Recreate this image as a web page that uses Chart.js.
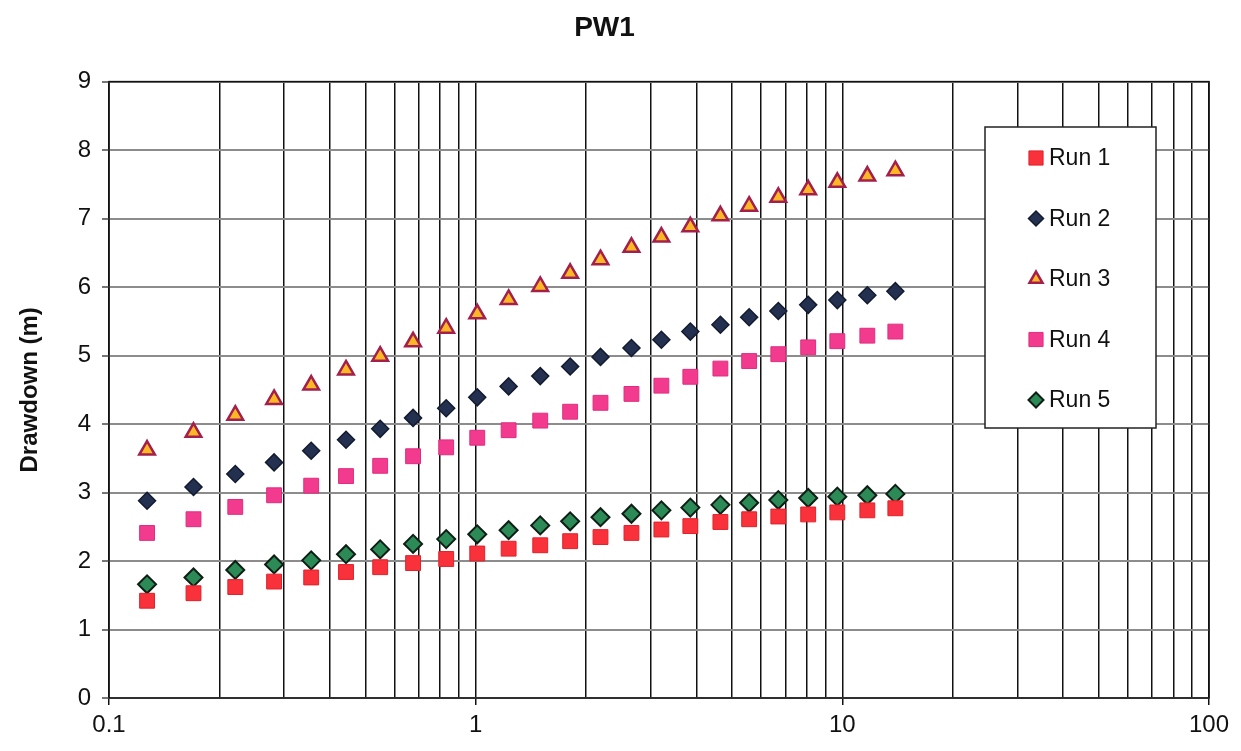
<!DOCTYPE html>
<html lang="en">
  <head>
    <meta charset="UTF-8">
    <title>PW1 drawdown</title>
    <style>
      html, body { margin: 0; padding: 0; background: #fff; }
      .wrap { width: 1241px; height: 751px; }
    </style>
  </head>
  <body>
    <div class="wrap">
      <canvas id="myChart" width="1241" height="751"></canvas>
    </div>

    <script src="https://cdn.jsdelivr.net/npm/chart.js"></script>

    <script>
      // time values (log axis) shared by all runs
      const times = [0.127, 0.170, 0.221, 0.282, 0.356, 0.443, 0.549, 0.675, 0.831, 1.01,
                     1.23, 1.50, 1.81, 2.19, 2.66, 3.21, 3.85, 4.65, 5.57, 6.69,
                     8.07, 9.69, 11.7, 13.95];

      const run1 = [1.42, 1.53, 1.62, 1.70, 1.76, 1.84, 1.91, 1.97, 2.03, 2.11,
                    2.18, 2.23, 2.29, 2.35, 2.41, 2.46, 2.51, 2.57, 2.61, 2.65,
                    2.68, 2.71, 2.74, 2.77];
      const run2 = [2.88, 3.08, 3.27, 3.44, 3.61, 3.77, 3.93, 4.09, 4.23, 4.39,
                    4.55, 4.70, 4.84, 4.98, 5.11, 5.23, 5.35, 5.45, 5.56, 5.65,
                    5.74, 5.81, 5.88, 5.94];
      const run3 = [3.62, 3.88, 4.13, 4.36, 4.57, 4.79, 4.99, 5.20, 5.40, 5.61,
                    5.82, 6.01, 6.20, 6.40, 6.58, 6.73, 6.88, 7.04, 7.18, 7.31,
                    7.42, 7.53, 7.62, 7.70];
      const run4 = [2.41, 2.61, 2.79, 2.96, 3.10, 3.24, 3.39, 3.53, 3.66, 3.80,
                    3.91, 4.05, 4.18, 4.31, 4.44, 4.56, 4.69, 4.81, 4.92, 5.02,
                    5.12, 5.21, 5.29, 5.35];
      const run5 = [1.66, 1.76, 1.87, 1.95, 2.01, 2.10, 2.17, 2.25, 2.32, 2.39,
                    2.45, 2.52, 2.58, 2.64, 2.69, 2.74, 2.78, 2.82, 2.85, 2.89,
                    2.92, 2.94, 2.96, 2.98];

      const runNames = ['Run 1', 'Run 2', 'Run 3', 'Run 4', 'Run 5'];
      const decades = [0.1, 1, 10, 100];
      const yTicks = [0, 1, 2, 3, 4, 5, 6, 7, 8, 9];

      const FONT = 'Arial, "Liberation Sans", sans-serif';

      function pts(vals) {
        return times.map((t, i) => ({ x: t, y: vals[i] }));
      }

      // looks of each run
      const styles = [
        { pointStyle: 'rect', backgroundColor: '#f8313a', borderColor: '#e0222b', borderWidth: 1, pointRadius: 10.5 },
        { pointStyle: 'rectRot', backgroundColor: '#23304f', borderColor: '#131b30', borderWidth: 1.5, pointRadius: 8.5 },
        { pointStyle: 'triangle', backgroundColor: '#fbb824', borderColor: '#a4204c', borderWidth: 2.5, pointRadius: 9 },
        { pointStyle: 'rect', backgroundColor: '#f23b8f', borderColor: '#e02d7e', borderWidth: 1, pointRadius: 10.5 },
        { pointStyle: 'rectRot', backgroundColor: '#2b8a55', borderColor: '#0f1f16', borderWidth: 2, pointRadius: 9 }
      ];

      const runs = [run1, run2, run3, run4, run5];

      const datasets = runs.map((r, i) => Object.assign({
        label: runNames[i],
        data: pts(r),
        showLine: false,
        pointHoverRadius: styles[i].pointRadius
      }, styles[i], { pointBorderWidth: styles[i].borderWidth }));

      // black frame around the plot area
      const frame = {
        id: 'frame',
        afterDatasetsDraw(chart) {
          const a = chart.chartArea, c = chart.ctx;
          c.save();
          c.strokeStyle = '#111';
          c.lineWidth = 1.5;
          c.strokeRect(a.left, a.top, a.right - a.left, a.bottom - a.top);
          c.restore();
        }
      };

      // legend box drawn inside the plot
      const boxLegend = {
        id: 'boxLegend',
        afterDraw(chart) {
          const c = chart.ctx;
          const x0 = 985, y0 = 127, w = 171, h = 301;
          c.save();
          c.fillStyle = '#fff';
          c.fillRect(x0, y0, w, h);
          c.strokeStyle = '#222';
          c.lineWidth = 1.5;
          c.strokeRect(x0, y0, w, h);
          c.font = '23px ' + FONT;
          c.textBaseline = 'middle';
          c.fillStyle = '#111';
          runNames.forEach((name, i) => {
            const y = 158 + i * 60.5;
            const s = styles[i];
            c.fillStyle = s.backgroundColor;
            c.strokeStyle = s.borderColor;
            c.lineWidth = s.borderWidth;
            Chart.helpers.drawPoint(c, {
              pointStyle: s.pointStyle,
              radius: s.pointStyle === 'rect' ? 10 : 7.5,
              rotation: 0,
              borderWidth: s.borderWidth
            }, 1036, y);
            c.fillStyle = '#111';
            c.fillText(name, 1049, y + 1);
          });
          c.restore();
        }
      };

      const ctx = document.getElementById('myChart');

      new Chart(ctx, {
        type: 'scatter',
        data: { datasets },
        plugins: [frame, boxLegend],
        options: {
          responsive: false,
          animation: false,
          layout: { padding: { left: 0, right: 32, top: 0, bottom: 0 } },
          plugins: {
            legend: { display: false },
            tooltip: { enabled: false },
            title: {
              display: true,
              text: 'PW1',
              color: '#111',
              font: { family: FONT, size: 28, weight: 'bold' },
              padding: { top: 11, bottom: 37 }
            }
          },
          scales: {
            x: {
              type: 'logarithmic',
              min: 0.1,
              max: 100,
              afterBuildTicks(scale) {
                const list = [];
                decades.slice(0, -1).forEach(d => {
                  for (let k = 1; k < 10; k++) list.push({ value: +(d * k).toPrecision(3) });
                });
                list.push({ value: decades[decades.length - 1] });
                scale.ticks = list;
              },
              afterFit(scale) { scale.height = 53; },
              border: { display: false },
              grid: {
                color: '#111',
                lineWidth: 1.5,
                tickLength: 7,
                tickColor: c => decades.includes(c.tick && c.tick.value) ? '#111' : 'rgba(0,0,0,0)'
              },
              ticks: {
                autoSkip: false,
                maxRotation: 0,
                padding: 6,
                color: '#111',
                font: { family: FONT, size: 24 },
                callback: v => decades.includes(v) ? String(v) : ''
              }
            },
            y: {
              min: 0,
              max: 9,
              afterBuildTicks(scale) {
                scale.ticks = yTicks.map(v => ({ value: v }));
              },
              afterFit(scale) { scale.width = 109; },
              border: { display: false },
              grid: {
                color: '#8c8c8c',
                lineWidth: 2,
                tickLength: 7,
                tickColor: '#777'
              },
              ticks: {
                padding: 11,
                color: '#111',
                font: { family: FONT, size: 24 }
              },
              title: {
                display: true,
                text: 'Drawdown (m)',
                color: '#111',
                font: { family: FONT, size: 24, weight: 'bold' },
                padding: { top: 16, bottom: 0 }
              }
            }
          }
        }
      });
    </script>
  </body>
</html>
